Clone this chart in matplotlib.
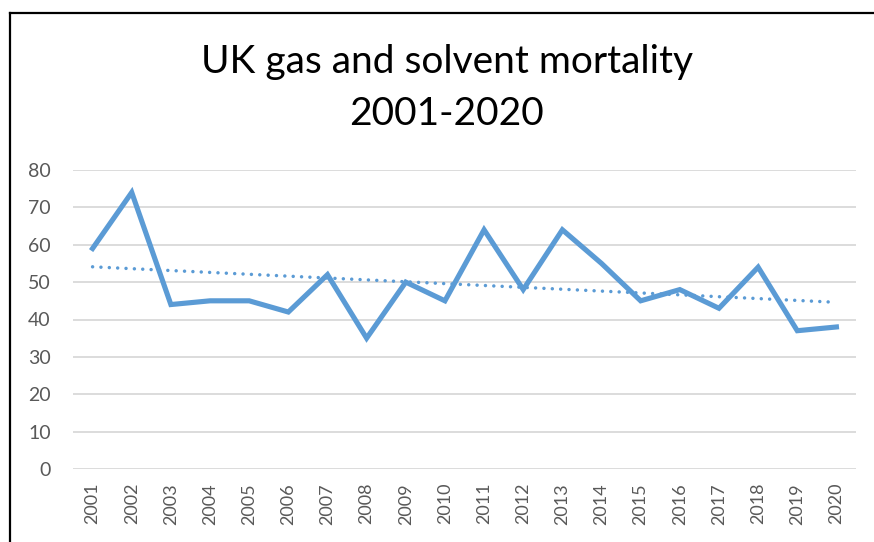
import numpy as np
import matplotlib
matplotlib.use("Agg")
import matplotlib.pyplot as plt
from matplotlib.lines import Line2D

# data
years = [str(y) for y in range(2001, 2021)]
deaths = [59, 74, 44, 45, 45, 42, 52, 35, 50, 45, 64, 48, 64, 55, 45, 48, 43, 54, 37, 38]
y_ticks = [0, 10, 20, 30, 40, 50, 60, 70, 80]

W, H = 874, 542
fig = plt.figure(figsize=(W / 100, H / 100), dpi=100)
plt.rcParams['font.family'] = ['Lato', 'DejaVu Sans']

# plot area in pixels: x 73..856, y 170..469
ax = fig.add_axes([73 / W, 1 - 469 / H, (856 - 73) / W, (469 - 170) / H])

x = np.arange(len(deaths))
blue = '#5B9BD5'
ax.plot(x, deaths, color=blue, linewidth=3.7, solid_joinstyle='miter', zorder=3)

# linear trendline (dotted)
k, b = np.polyfit(x, deaths, 1)
ax.plot(x, k * x + b, color=blue, linewidth=2.5, linestyle=(0, (0.01, 2.4)),
        dash_capstyle='round', zorder=2)

ax.set_xlim(-0.5, len(deaths) - 0.5)
ax.set_ylim(0, 80)
ax.set_yticks(y_ticks)
ax.set_xticks(x)
ax.set_xticklabels(years, rotation=90)
ax.grid(axis='y', color='#D9D9D9', linewidth=1.3)
ax.set_axisbelow(True)
for s in ax.spines.values():
    s.set_visible(False)
ax.tick_params(axis='both', length=0, colors='#595959')
ax.tick_params(axis='y', pad=16, labelsize=14)
ax.tick_params(axis='x', pad=10, labelsize=13)

fig.text(0.5 + 10 / W, 1 - 62 / H, 'UK gas and solvent mortality', ha='center', va='center',
         fontsize=28, color='black')
fig.text(0.5 + 10 / W, 1 - 114 / H, '2001-2020', ha='center', va='center',
         fontsize=28, color='black')

# chart frame (cropped on right and bottom)
fig.add_artist(Line2D([9.5 / W, 9.5 / W], [0, 1 - 13 / H], color='black', linewidth=1.6,
                      transform=fig.transFigure))
fig.add_artist(Line2D([9.5 / W, 1], [1 - 13 / H, 1 - 13 / H], color='black', linewidth=1.6,
                      transform=fig.transFigure))

fig.savefig('out.png', dpi=100)
